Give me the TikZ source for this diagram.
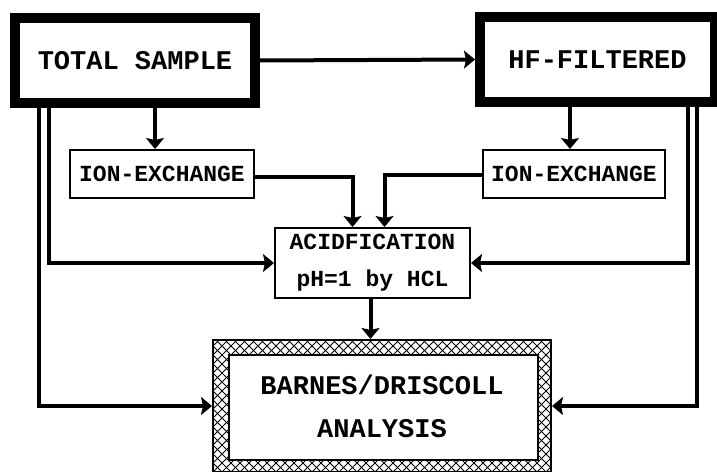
\documentclass[tikz,border=0pt]{standalone}
\usepackage{fontspec}
\setmonofont{Liberation Mono}
\usetikzlibrary{arrows.meta}
\begin{document}
\begin{tikzpicture}[x=1pt,y=-1pt,
  thickbox/.style={draw,line width=10pt,minimum width=#1,minimum height=85pt,inner sep=0pt,font=\ttfamily\bfseries\fontsize{27}{30}\selectfont},
  thinbox/.style={draw,line width=2pt,inner sep=0pt,font=\ttfamily\bfseries\fontsize{23}{37}\selectfont,align=center},
  conn/.style={line width=4pt},
  arr/.style={conn,-{Stealth[length=11pt,width=18pt,inset=2pt]}}]
\useasboundingbox (0,0) rectangle (717,471);
% main boxes
\node[thickbox=240pt] (ts) at (135,60.5) {TOTAL SAMPLE};
\node[thickbox=235pt] (hf) at (597.5,59.5) {HF-FILTERED};
\node[thinbox,minimum width=184pt,minimum height=48pt] (ionl) at (162,174) {ION-EXCHANGE};
\node[thinbox,minimum width=182pt,minimum height=48pt] (ionr) at (574,174) {ION-EXCHANGE};
\node[thinbox,minimum width=195pt,minimum height=70pt] (acid) at (372.5,263) {ACIDFICATION\\pH=1 by HCL};
\node[draw,line width=2pt,minimum width=338pt,minimum height=132pt,inner sep=0pt,
  font=\ttfamily\bfseries\fontsize{27}{43}\selectfont,align=center,
  path picture={
    \foreach \i in {-20,...,56}{
      \draw[line width=0.9pt] ([xshift=\i*9pt]path picture bounding box.south west) -- ++(160pt,160pt);
      \draw[line width=0.9pt] ([xshift=\i*9pt]path picture bounding box.south west) -- ++(-160pt,160pt);
    }
    \fill[white,draw=black,line width=2pt] ([shift={(16pt,12pt)}]path picture bounding box.south west) rectangle ([shift={(-13pt,-15pt)}]path picture bounding box.north east);
  }] (barnes) at (382,406) {BARNES/DRISCOLL\\ANALYSIS};
% connectors
\draw[arr] (ts.east) -- (hf.west);
\draw[arr] ([xshift=-7pt]ionl.north |- ts.south) -- ([xshift=-7pt]ionl.north);
\draw[arr] ([xshift=-4pt]ionr.north |- hf.south) -- ([xshift=-4pt]ionr.north);
\draw[arr] ([yshift=-3pt]ionl.east) -| ([xshift=-20pt]acid.north);
\draw[arr] ([yshift=-1pt]ionr.west) -| ([xshift=12pt]acid.north);
\draw[arr] ([xshift=-86pt]ts.south) |- (acid.west);
\draw[arr] ([xshift=-96pt]ts.south) |- (barnes.west);
\draw[arr] ([xshift=90.5pt]hf.south) |- (acid.east);
\draw[arr] ([xshift=99.5pt]hf.south) |- (barnes.east);
\draw[arr] ([xshift=-2pt]acid.south) -- ([xshift=-2pt]acid.south |- barnes.north);
\end{tikzpicture}
\end{document}
